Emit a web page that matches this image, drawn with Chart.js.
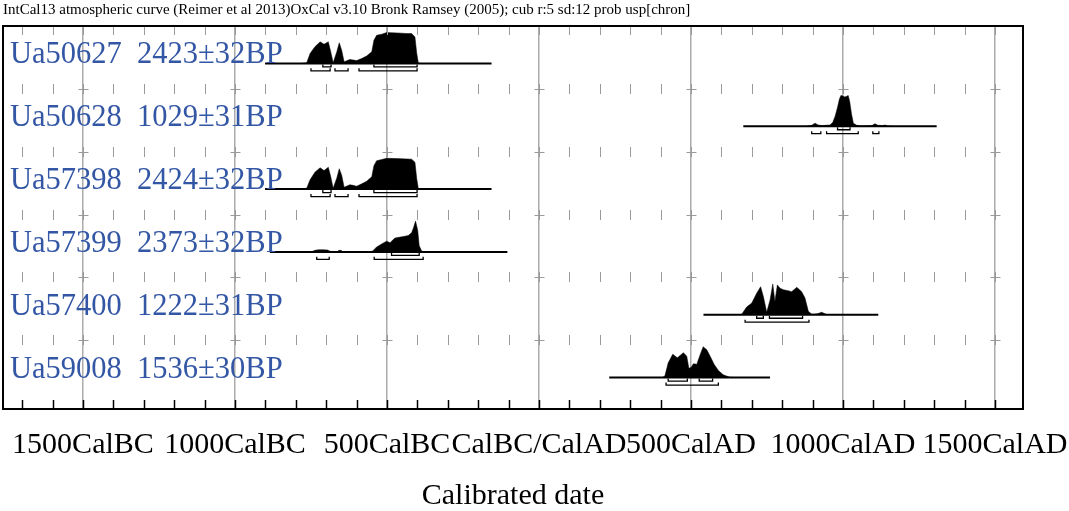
<!DOCTYPE html>
<html>
<head>
<meta charset="utf-8">
<script src="https://cdn.jsdelivr.net/npm/chart.js@4.4.1/dist/chart.umd.min.js"></script>
<style>
html, body { margin: 0; padding: 0; background: #fff; }
</style>
</head>
<body>
<canvas id="chart" width="1069" height="511"></canvas>
<script>
const headerText = "IntCal13 atmospheric curve (Reimer et al 2013)OxCal v3.10 Bronk Ramsey (2005); cub r:5 sd:12 prob usp[chron]"
const sampleNames = ["Ua50627", "Ua50628", "Ua57398", "Ua57399", "Ua57400", "Ua59008"]
const sampleDates = ["2423±32BP", "1029±31BP", "2424±32BP", "2373±32BP", "1222±31BP", "1536±30BP"]

// calendar years, BC negative
const axisYears = [-1500, -1000, -500, 0, 500, 1000, 1500]
const axisMin = -1763
const axisMax = 1592

// extent of the horizontal line under each distribution
const rangeStart = [-901, 672, -901, -885, 541, 231]
const rangeEnd = [-156, 1308, -156, -104, 1116, 760]

// relative probability
const ua50627Years = [-780, -764, -753, -737, -720, -707, -693, -685, -677, -665, -657, -649, -641, -622, -611, -600, -583, -567, -550, -543, -534, -517, -501, -468, -435, -419, -408, -402, -397, -390]
const ua50627Prob = [0, 0.02, 0.32, 0.54, 0.70, 0.62, 0.70, 0.38, 0.02, 0.38, 0.67, 0.43, 0.05, 0.13, 0.11, 0.09, 0.16, 0.24, 0.38, 0.75, 0.91, 0.95, 1.0, 0.99, 0.97, 0.97, 0.86, 0.32, 0.02, 0]

const ua50628Years = [880, 897, 908, 918, 930, 957, 966, 974, 982, 988, 993, 1000, 1006, 1012, 1017, 1022, 1028, 1034, 1045, 1060, 1095, 1105, 1115, 1130, 1138, 1146, 1160]
const ua50628Prob = [0, 0.03, 0.1, 0.04, 0.02, 0.04, 0.12, 0.32, 0.62, 0.88, 1.0, 0.98, 0.95, 0.97, 1.0, 0.8, 0.4, 0.1, 0.03, 0.01, 0.02, 0.08, 0.03, 0.02, 0.04, 0.01, 0]

const ua57398Years = [-780, -764, -753, -737, -720, -707, -693, -685, -677, -665, -657, -649, -641, -622, -611, -600, -583, -567, -550, -543, -534, -517, -501, -468, -435, -419, -408, -402, -397, -390]
const ua57398Prob = [0, 0.03, 0.30, 0.55, 0.69, 0.60, 0.71, 0.40, 0.03, 0.36, 0.66, 0.45, 0.06, 0.14, 0.12, 0.09, 0.17, 0.25, 0.40, 0.76, 0.92, 0.96, 1.0, 0.99, 0.98, 0.97, 0.87, 0.33, 0.02, 0]

const ua57399Years = [-750, -737, -725, -710, -695, -687, -665, -658, -651, -645, -555, -547, -534, -512, -501, -490, -474, -446, -430, -419, -413, -406, -399, -394, -386, -378]
const ua57399Prob = [0, 0.05, 0.07, 0.07, 0.06, 0.02, 0, 0.05, 0.05, 0, 0, 0.03, 0.16, 0.29, 0.35, 0.30, 0.45, 0.50, 0.53, 0.62, 0.78, 1.0, 0.70, 0.20, 0.03, 0]

const ua57400Years = [660, 667, 683, 700, 716, 729, 738, 749, 760, 769, 776, 784, 793, 804, 820, 831, 848, 864, 875, 886, 897, 915, 930, 946, 960]
const ua57400Prob = [0, 0.02, 0.25, 0.38, 0.70, 0.91, 0.59, 0.08, 0.48, 1.0, 0.43, 0.97, 0.86, 0.81, 0.78, 0.75, 0.89, 0.75, 0.54, 0.11, 0.02, 0.03, 0.08, 0.01, 0]

const ua59008Years = [405, 414, 425, 440, 455, 475, 486, 493, 500, 508, 519, 530, 540, 552, 563, 576, 590, 606, 628, 645]
const ua59008Prob = [0, 0.05, 0.48, 0.76, 0.64, 0.81, 0.69, 0.30, 0.33, 0.45, 0.43, 0.74, 1.0, 0.90, 0.69, 0.43, 0.23, 0.09, 0.01, 0]

// 68.2% and 95.4% ranges [from, to]
const sigma1 = [
  [[-711, -684], [-543, -401]],
  [[982, 1023]],
  [[-711, -684], [-543, -401]],
  [[-485, -394]],
  [[716, 738], [758, 867]],
  [[425, 488], [527, 571]]
]
const sigma2 = [
  [[-750, -687], [-671, -628], [-592, -401]],
  [[897, 927], [946, 1050], [1098, 1118]],
  [[-750, -687], [-671, -628], [-592, -401]],
  [[-731, -690], [-542, -381]],
  [[678, 888]],
  [[418, 590]]
]

const distYears = [ua50627Years, ua50628Years, ua57398Years, ua57399Years, ua57400Years, ua59008Years]
const distProb = [ua50627Prob, ua50628Prob, ua57398Prob, ua57399Prob, ua57400Prob, ua59008Prob]

// row layout, in row units on the y scale
const ROWS = 6
const BASE_OFF = 0.595
const PEAK = 0.49
const SIG1_OFF = 0.056
const SIG2_OFF = 0.119
const BRACKET_UP = 0.04

const serif = "'Times New Roman', 'Liberation Serif', serif"

function yearLabel(v) {
  if (v < 0) return (-v) + "CalBC"
  if (v === 0) return "CalBC/CalAD"
  return v + "CalAD"
}

function bracketPoints(ranges, y) {
  const pts = []
  ranges.forEach(function([a, b]) {
    pts.push({x: a, y: y - BRACKET_UP}, {x: a, y: y}, {x: b, y: y}, {x: b, y: y - BRACKET_UP}, {x: b, y: null})
  })
  return pts
}

const datasets = []
for (let i = 0; i < ROWS; i++) {
  const base = i + BASE_OFF
  datasets.push({
    data: distYears[i].map((yr, k) => ({x: yr, y: base - distProb[i][k] * PEAK})),
    fill: {value: base},
    backgroundColor: "#000",
    borderColor: "#000",
    borderWidth: 0.5,
    pointRadius: 0
  })
  datasets.push({
    data: [{x: rangeStart[i], y: base}, {x: rangeEnd[i], y: base}],
    borderColor: "#000",
    borderWidth: 2,
    pointRadius: 0,
    fill: false
  })
  datasets.push({
    data: bracketPoints(sigma1[i], base + SIG1_OFF),
    borderColor: "#000",
    borderWidth: 1.3,
    pointRadius: 0,
    fill: false
  })
  datasets.push({
    data: bracketPoints(sigma2[i], base + SIG2_OFF),
    borderColor: "#000",
    borderWidth: 1.3,
    pointRadius: 0,
    fill: false
  })
}

const oxcalDecor = {
  id: "oxcalDecor",
  afterDatasetsDraw(chart) {
    const {ctx, chartArea, scales: {y}} = chart
    ctx.save()
    ctx.fillStyle = "#3457a5"
    ctx.font = "30.5px " + serif
    ctx.textBaseline = "alphabetic"
    for (let i = 0; i < ROWS; i++) {
      const py = y.getPixelForValue(i + BASE_OFF)
      ctx.fillText(sampleNames[i] + "  " + sampleDates[i], chartArea.left + 7, py)
    }
    ctx.restore()
  },
  afterDraw(chart) {
    const {ctx, chartArea: a, scales: {x, y}} = chart
    ctx.save()
    ctx.strokeStyle = "#9a9a9a"
    ctx.lineWidth = 1
    for (let r = 0; r < ROWS; r++) {
      const py = Math.round(y.getPixelForValue(r))
      for (let yr = -1700; yr <= 1500; yr += 100) {
        const px = Math.round(x.getPixelForValue(yr)) + 0.5
        ctx.beginPath()
        if (r === 0) {
          ctx.moveTo(px, a.top)
          ctx.lineTo(px, a.top + 9)
        } else {
          ctx.moveTo(px, py - 5)
          ctx.lineTo(px, py + 5)
          if (yr % 500 === 0) {
            ctx.moveTo(px - 5, py + 0.5)
            ctx.lineTo(px + 5, py + 0.5)
          }
        }
        ctx.stroke()
      }
    }
    ctx.strokeStyle = "#000"
    ctx.lineWidth = 1.5
    for (let yr = -1700; yr <= 1500; yr += 100) {
      const px = Math.round(x.getPixelForValue(yr)) + 0.5
      ctx.beginPath()
      ctx.moveTo(px, a.bottom)
      ctx.lineTo(px, a.bottom - 9)
      ctx.stroke()
    }
    ctx.lineWidth = 2
    ctx.strokeRect(a.left, a.top, a.right - a.left, a.bottom - a.top)
    ctx.restore()
  }
}

new Chart(document.getElementById("chart"), {
  type: "line",
  data: {datasets: datasets},
  plugins: [oxcalDecor],
  options: {
    responsive: false,
    animation: false,
    devicePixelRatio: 1,
    events: [],
    layout: {padding: {left: 3, right: 46, top: 0, bottom: 0}},
    plugins: {
      legend: {display: false},
      tooltip: {enabled: false},
      title: {
        display: true,
        text: headerText,
        align: "start",
        color: "#000",
        font: {family: serif, size: 15, weight: "normal", lineHeight: 1.1},
        padding: {top: 2, bottom: 7.5}
      }
    },
    scales: {
      x: {
        type: "linear",
        min: axisMin,
        max: axisMax,
        z: 1,
        afterBuildTicks: function(scale) {
          scale.ticks = axisYears.map(v => ({value: v}))
        },
        grid: {color: "#ababab", lineWidth: 1.5, drawTicks: false},
        border: {display: false},
        ticks: {
          autoSkip: false,
          maxRotation: 0,
          padding: 0,
          color: "#000",
          font: {family: serif, size: 30, lineHeight: 2.4},
          callback: v => yearLabel(v)
        },
        title: {
          display: true,
          text: "Calibrated date",
          color: "#000",
          font: {family: serif, size: 30, lineHeight: 1},
          padding: {top: 0, bottom: 0}
        }
      },
      y: {
        type: "linear",
        display: false,
        reverse: true,
        min: 0,
        max: 6.095
      }
    }
  }
})
</script>
</body>
</html>
